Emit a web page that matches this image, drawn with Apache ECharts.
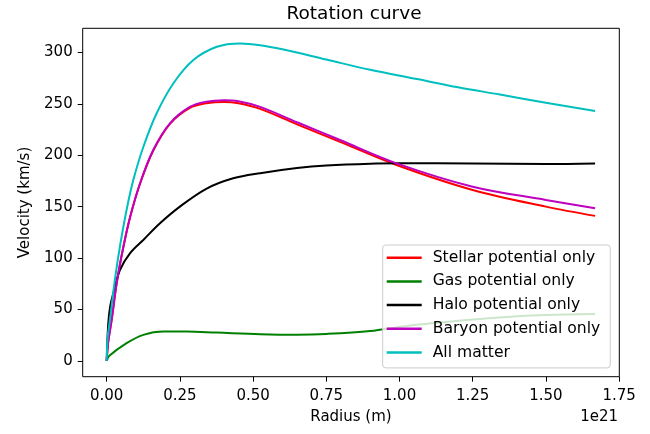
<!DOCTYPE html>
<html>
<head>
<meta charset="utf-8">
<script src="https://cdn.jsdelivr.net/npm/echarts@6/dist/echarts.min.js"></script>
<style>
html,body{margin:0;padding:0;background:#fff;}
#chart{width:650px;height:434px;}
</style>
</head>
<body>
<div id="chart"></div>
<script>
// Radius in units of 1e21 m, velocity in km/s
const stellarR = [0, 0.005, 0.017, 0.034, 0.057, 0.08, 0.114, 0.159, 0.216, 0.284, 0.34, 0.4, 0.45, 0.524, 0.65, 0.797, 0.99, 1.25, 1.5, 1.668];
const stellarV = [0, 18, 40, 75.5, 111, 140, 172.5, 204.5, 230.5, 246, 250.5, 251.8, 250.5, 245, 230, 213, 190.5, 166.2, 150, 141];

const gasR = [0, 0.009, 0.068, 0.125, 0.193, 0.273, 0.376, 0.524, 0.65, 0.75, 0.9, 1.013, 1.13, 1.24, 1.354, 1.5, 1.668];
const gasV = [0, 4.9, 17.2, 25.3, 28.5, 28.5, 27.5, 26, 25.5, 26.2, 29, 33.5, 37, 40, 42.5, 44.5, 45.5];

const haloR = [0, 0.005, 0.0113, 0.0226, 0.0454, 0.08, 0.125, 0.182, 0.25, 0.3415, 0.432, 0.524, 0.65, 0.75, 0.9, 1.0, 1.25, 1.5, 1.668];
const haloV = [0, 35, 52, 65.8, 88.4, 104.7, 117.6, 133.8, 150, 167.5, 177.5, 182.5, 187.5, 190, 191.8, 192.1, 192, 191.5, 192];

const baryonR = [0, 0.005, 0.017, 0.034, 0.057, 0.08, 0.114, 0.159, 0.216, 0.284, 0.34, 0.4, 0.45, 0.524, 0.65, 0.797, 0.99, 1.25, 1.5, 1.668];
const baryonV = [0, 18, 40, 75.5, 111, 140, 172.7, 205, 231, 247, 252, 253.5, 252.5, 247, 232, 214.8, 192.1, 169.4, 156.5, 148.4];

const allR = [0, 0.003, 0.011, 0.028, 0.045, 0.068, 0.091, 0.125, 0.171, 0.228, 0.296, 0.376, 0.455, 0.524, 0.6, 0.75, 0.9, 1.06, 1.2, 1.343, 1.5, 1.668];
const allV = [0, 22, 40, 79, 111, 147, 176, 208, 241, 270, 292.5, 305.4, 308.7, 307, 303, 293, 283, 274, 266, 259, 251, 243];

const seriesNames = ['Stellar potential only', 'Gas potential only', 'Halo potential only', 'Baryon potential only', 'All matter'];
const seriesColors = ['#ff0000', '#008000', '#000000', '#bf00bf', '#00bfbf'];

const xTicks = [0, 0.25, 0.5, 0.75, 1.0, 1.25, 1.5, 1.75];
const yTicks = [0, 50, 100, 150, 200, 250, 300];

function zip(r, v) { return r.map((x, i) => [x, v[i]]); }
const allData = [zip(stellarR, stellarV), zip(gasR, gasV), zip(haloR, haloV), zip(baryonR, baryonV), zip(allR, allV)];

const FONT = 'DejaVu Sans';
const chart = echarts.init(document.getElementById('chart'), null, {renderer: 'canvas'});

chart.setOption({
  animation: false,
  backgroundColor: '#ffffff',
  title: {
    text: 'Rotation curve',
    left: 349, textAlign: 'center', top: 0,
    textStyle: {fontFamily: FONT, fontSize: 18.5, fontWeight: 'normal', color: '#000'}
  },
  grid: {
    left: 82.7, right: 30.7, top: 28.3, bottom: 57.3,
    show: true, borderColor: '#000', borderWidth: 1, backgroundColor: 'transparent'
  },
  xAxis: {
    type: 'value', min: -0.082, max: 1.7507,
    splitLine: {show: false},
    axisLine: {show: false, onZero: false},
    axisTick: {show: true, customValues: xTicks, length: 5, lineStyle: {color: '#000', width: 1}},
    axisLabel: {customValues: xTicks, margin: 12, color: '#000', fontFamily: FONT, fontSize: 15,
      formatter: v => v.toFixed(2)},
    name: 'Radius (m)', nameLocation: 'middle', nameGap: 33,
    nameTextStyle: {fontFamily: FONT, fontSize: 15, color: '#000'}
  },
  yAxis: {
    type: 'value', min: -15.4, max: 323.4,
    splitLine: {show: false},
    axisLine: {show: false, onZero: false},
    axisTick: {show: true, customValues: yTicks, length: 5, lineStyle: {color: '#000', width: 1}},
    axisLabel: {customValues: yTicks, margin: 10, color: '#000', fontFamily: FONT, fontSize: 15,
      formatter: v => String(Math.round(v))},
    name: 'Velocity (km/s)', nameLocation: 'middle', nameGap: 50,
    nameTextStyle: {fontFamily: FONT, fontSize: 15, color: '#000'}
  },
  legend: {
    orient: 'vertical', left: 382.7, top: 245,
    padding: [4.7, 10, 7.4, 4],
    itemGap: 7.7, itemWidth: 35, itemHeight: 2.5, icon: 'rect',
    backgroundColor: 'rgba(255,255,255,0.8)', borderColor: '#cccccc', borderWidth: 1, borderRadius: 3,
    textStyle: {fontFamily: FONT, fontSize: 15.6, color: '#000', padding: [0, 0, 0, 6], lineHeight: 16},
    data: seriesNames
  },
  graphic: [{
    type: 'text', right: 32, top: 410,
    style: {text: '1e21', fontFamily: FONT, fontSize: 15, fill: '#000'}
  }],
  series: seriesNames.map((n, i) => ({
    name: n, type: 'line', data: allData[i],
    showSymbol: false, symbol: 'none', smooth: 0.35,
    lineStyle: {color: seriesColors[i], width: 2},
    itemStyle: {color: seriesColors[i]},
    z: 2 + i
  }))
});
</script>
</body>
</html>
